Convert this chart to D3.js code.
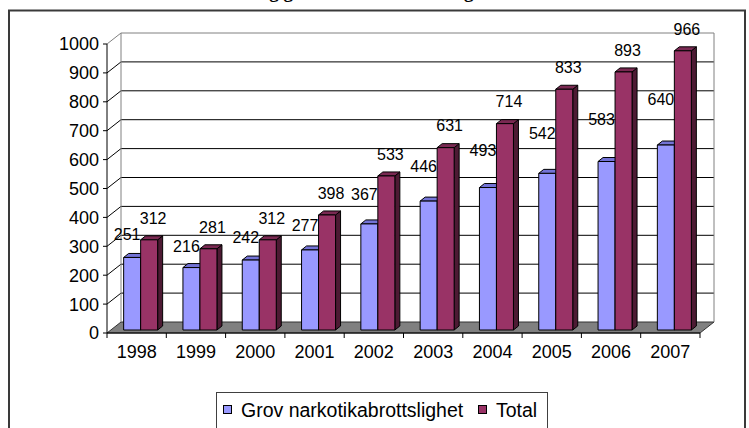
<!DOCTYPE html>
<html lang="sv">
<head>
<meta charset="UTF-8">
<title>Grov narkotikabrottslighet</title>
<script src="https://d3js.org/d3.v7.min.js"></script>
<style>
    body { margin: 0; background: #fff; overflow: hidden; }
    svg { display: block; font-family: 'Liberation Sans', Arial, sans-serif; }
    .grid { stroke: #000; stroke-width: 1; fill: none; }
    .wall { stroke: #808080; stroke-width: 1; fill: none; }
    .face { stroke: #000; stroke-width: 1; stroke-linejoin: round; }
</style>
</head>
<body>
<svg width="749" height="428"></svg>
<script>
    // data
    const years = ["1998", "1999", "2000", "2001", "2002", "2003", "2004", "2005", "2006", "2007"];
    const grov = [251, 216, 242, 277, 367, 446, 493, 542, 583, 640];
    const total = [312, 281, 312, 398, 533, 631, 714, 833, 893, 966];
    const yTicks = [0, 100, 200, 300, 400, 500, 600, 700, 800, 900, 1000];
    const seriesNames = ["Grov narkotikabrottslighet", "Total"];

    const colors = [
        { front: "#9999ff", top: "#7373d6", side: "#4d4d99" },
        { front: "#993366", top: "#7a2952", side: "#4d1a33" }
    ];

    const svg = d3.select("svg");

    // title, cut off by the top of the picture as in the original
    svg.append("text")
        .attr("x", 345).attr("y", -2)
        .attr("text-anchor", "middle")
        .style("font-family", "'Liberation Serif', 'Times New Roman', serif")
        .style("font-weight", "bold")
        .style("font-size", "19px")
        .text("Utveckling grov narkotikabrottslighet");

    // outer frame
    svg.append("rect")
        .attr("x", 9).attr("y", 10.5)
        .attr("width", 736).attr("height", 440)
        .attr("fill", "none").attr("stroke", "#3a3a3a").attr("stroke-width", 2);

    // scales
    const x = d3.scaleBand().domain(years).range([107, 700]);
    const y = d3.scaleLinear().domain([0, 1000]).range([333, 44]);
    // Excel placed the labels of the first series on its own slope
    const labelY = [
        d3.scaleLinear().domain([0, 1000]).range([321, -25]),
        v => y(v) - 25
    ];

    const depth = { dx: 14, dy: -11 };   // wall depth
    const barOff = { dx: 4, dy: -3 };    // bar front inside the floor
    const barDepth = { dx: 5, dy: -4 };  // bar thickness
    const barW = 17;

    const g = svg.append("g");

    // floor
    g.append("path")
        .attr("d", `M${x.range()[0]},${y(0)} L${x.range()[0] + depth.dx},${y(0) + depth.dy}
                    L${x.range()[1] + depth.dx},${y(0) + depth.dy} L${x.range()[1]},${y(0)} Z`)
        .attr("fill", "#808080").attr("stroke", "#333").attr("stroke-width", 1);

    // back wall grid + side wall diagonals
    const x0 = x.range()[0], x1 = x.range()[1];
    g.selectAll(".grid-back")
        .data(yTicks.filter(t => t > 0 && t < 1000))
        .join("line")
        .attr("class", "grid")
        .attr("x1", x0 + depth.dx).attr("x2", x1 + depth.dx)
        .attr("y1", d => y(d) + depth.dy).attr("y2", d => y(d) + depth.dy);

    g.selectAll(".grid-side")
        .data(yTicks.filter(t => t > 0 && t < 1000))
        .join("line")
        .attr("class", "grid")
        .attr("x1", x0).attr("x2", x0 + depth.dx)
        .attr("y1", d => y(d)).attr("y2", d => y(d) + depth.dy);

    // wall outlines
    g.append("path")
        .attr("class", "wall")
        .attr("d", `M${x0},${y(1000)} L${x0 + depth.dx},${y(1000) + depth.dy}
                    L${x1 + depth.dx},${y(1000) + depth.dy} L${x1 + depth.dx},${y(0) + depth.dy}
                    M${x0 + depth.dx},${y(1000) + depth.dy} L${x0 + depth.dx},${y(0) + depth.dy}`);

    // y axis
    g.append("line")
        .attr("x1", x0).attr("x2", x0)
        .attr("y1", y(0)).attr("y2", y(1000))
        .attr("stroke", "#000");
    g.selectAll(".ytick")
        .data(yTicks)
        .join("line")
        .attr("x1", x0 - 4).attr("x2", x0)
        .attr("y1", d => y(d)).attr("y2", d => y(d))
        .attr("stroke", "#000");
    g.selectAll(".ylabel")
        .data(yTicks)
        .join("text")
        .attr("x", x0 - 8)
        .attr("y", d => y(d))
        .attr("dy", "0.36em")
        .attr("text-anchor", "end")
        .style("font-size", "18px")
        .text(d => d);

    // x axis
    g.append("line")
        .attr("x1", x0).attr("x2", x1)
        .attr("y1", y(0)).attr("y2", y(0))
        .attr("stroke", "#000");
    g.selectAll(".xtick")
        .data(years.map(d => x(d)).concat([x1]))
        .join("line")
        .attr("x1", d => d).attr("x2", d => d)
        .attr("y1", y(0)).attr("y2", y(0) + 5)
        .attr("stroke", "#000");
    g.selectAll(".xlabel")
        .data(years)
        .join("text")
        .attr("x", d => x(d) + x.bandwidth() / 2)
        .attr("y", y(0) + 25)
        .attr("text-anchor", "middle")
        .style("font-size", "18px")
        .text(d => d);

    // bars
    const series = [grov, total];
    const bars = [];
    years.forEach((yr, i) => {
        series.forEach((vals, s) => {
            const bx = x(yr) + (x.bandwidth() - 2 * barW) / 2 + barOff.dx + s * barW;
            bars.push({ s, v: vals[i], bx });
        });
    });

    const barG = g.selectAll(".bar")
        .data(bars)
        .join("g")
        .attr("class", "bar");

    barG.each(function (d) {
        const sel = d3.select(this);
        const yb = y(0) + barOff.dy;
        const yt = y(d.v) + barOff.dy;
        const l = d.bx, r = d.bx + barW;
        const c = colors[d.s];
        sel.append("path").attr("class", "face")
            .attr("d", `M${r},${yt} L${r + barDepth.dx},${yt + barDepth.dy} L${r + barDepth.dx},${yb + barDepth.dy} L${r},${yb} Z`)
            .attr("fill", c.side);
        sel.append("path").attr("class", "face")
            .attr("d", `M${l},${yt} L${l + barDepth.dx},${yt + barDepth.dy} L${r + barDepth.dx},${yt + barDepth.dy} L${r},${yt} Z`)
            .attr("fill", c.top);
        sel.append("rect").attr("class", "face")
            .attr("x", l).attr("y", yt)
            .attr("width", barW).attr("height", yb - yt)
            .attr("fill", c.front);
    });

    // value labels
    g.selectAll(".vlabel")
        .data(bars)
        .join("text")
        .attr("x", d => d.bx + barW / 2 + (d.s === 0 ? -5 : 4))
        .attr("y", d => labelY[d.s](d.v))
        .attr("dy", "0.36em")
        .attr("text-anchor", "middle")
        .style("font-size", "16px")
        .text(d => d.v);

    // legend
    const lg = svg.append("g");
    lg.append("rect")
        .attr("x", 216.5).attr("y", 392.5)
        .attr("width", 331).attr("height", 50)
        .attr("fill", "#fff").attr("stroke", "#404040");
    const items = [
        { name: seriesNames[0], sx: 223, tx: 241 },
        { name: seriesNames[1], sx: 478, tx: 496 }
    ];
    items.forEach((it, i) => {
        lg.append("rect")
            .attr("x", it.sx + 0.5).attr("y", 405.5)
            .attr("width", 8).attr("height", 8)
            .attr("fill", colors[i].front).attr("stroke", "#000");
        lg.append("text")
            .attr("x", it.tx).attr("y", 417)
            .style("font-size", "19.5px")
            .text(it.name);
    });
</script>
</body>
</html>
